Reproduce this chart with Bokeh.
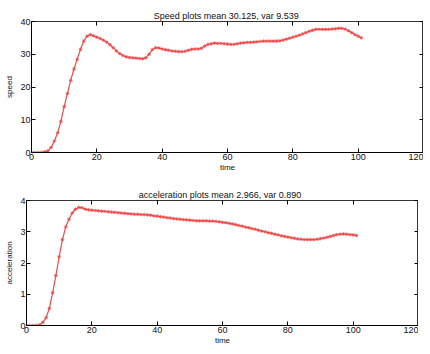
from bokeh.plotting import figure
from bokeh.layouts import column, row
from bokeh.models import LinearAxis, FixedTicker, Range1d, Spacer
from bokeh.embed import file_html
from bokeh.resources import INLINE

time = list(range(0, 102))
speed = [0, 0, 0, 0, 0.2, 0.5, 1.5, 3.5, 6, 9.5,
         14, 18, 22, 25.5, 28.5, 31.5, 34, 35.5, 36, 35.6,
         35.2, 34.8, 34.3, 33.7, 32.9, 32.0, 31.0, 30.2, 29.6, 29.2,
         29.0, 28.9, 28.8, 28.7, 28.6, 28.9, 30.0, 31.4, 32.0, 31.9,
         31.6, 31.4, 31.2, 31.0, 30.9, 30.8, 30.8, 30.9, 31.2, 31.5,
         31.6, 31.6, 31.8, 32.5, 33.0, 33.2, 33.4, 33.3, 33.3, 33.2,
         33.1, 33.0, 33.0, 33.2, 33.4, 33.5, 33.6, 33.6, 33.7, 33.8,
         33.9, 34.0, 34.0, 34.0, 34.0, 34.0, 34.1, 34.3, 34.6, 34.9,
         35.2, 35.5, 35.8, 36.2, 36.6, 37.0, 37.3, 37.6, 37.6, 37.6,
         37.6, 37.6, 37.7, 37.8, 37.9, 37.9, 37.7, 37.2, 36.6, 36.0,
         35.5, 35.0]
accel = [0, 0, 0, 0, 0.02, 0.1, 0.25, 0.55, 1.05, 1.6,
         2.2, 2.75, 3.15, 3.4, 3.6, 3.72, 3.78, 3.77, 3.72, 3.70,
         3.69, 3.68, 3.67, 3.66, 3.65, 3.64, 3.63, 3.62, 3.61, 3.60,
         3.59, 3.58, 3.57, 3.56, 3.56, 3.55, 3.55, 3.54, 3.53, 3.51,
         3.50, 3.48, 3.47, 3.45, 3.44, 3.42, 3.41, 3.40, 3.39, 3.38,
         3.37, 3.36, 3.35, 3.35, 3.35, 3.35, 3.34, 3.34, 3.33, 3.32,
         3.30, 3.29, 3.27, 3.25, 3.23, 3.20, 3.18, 3.15, 3.13, 3.10,
         3.08, 3.05, 3.02, 3.00, 2.97, 2.95, 2.92, 2.90, 2.87, 2.85,
         2.83, 2.81, 2.79, 2.77, 2.76, 2.75, 2.75, 2.75, 2.75, 2.76,
         2.78, 2.80, 2.82, 2.85, 2.88, 2.91, 2.92, 2.93, 2.92, 2.91,
         2.90, 2.88]

x_ticks = [0, 20, 40, 60, 80, 100, 120]
speed_ticks = [0, 10, 20, 30, 40]
accel_ticks = [0, 1, 2, 3, 4]

FONT = "Liberation Sans"
RED = "#f04848"
INK = "#111111"


def make(y, yticks, ymax, title, ylabel, frame_h, top):
    p = figure(frame_width=392, frame_height=frame_h, output_backend="svg",
               toolbar_location=None,
               x_range=Range1d(0, 120), y_range=Range1d(0, ymax),
               min_border_left=0, min_border_right=0, min_border_top=top,
               min_border_bottom=0)
    p.title.text = title
    p.title.align = "center"
    p.title.text_font = FONT
    p.title.text_font_size = "9px"
    p.title.text_font_style = "normal"
    p.title.text_color = INK
    p.title.standoff = 1
    p.title.offset = 0
    p.grid.visible = False
    p.outline_line_color = "black"
    p.outline_line_width = 0.8
    for ax, ticks in ((p.xaxis[0], x_ticks), (p.yaxis[0], yticks)):
        ax.ticker = FixedTicker(ticks=ticks)
        ax.major_tick_in = 4
        ax.major_tick_out = 0
        ax.major_tick_line_color = "black"
        ax.minor_tick_line_color = None
        ax.axis_line_color = "black"
        ax.major_label_text_font = FONT
        ax.major_label_text_font_size = "9px"
        ax.major_label_text_color = INK
        ax.major_label_standoff = 1
        ax.axis_label_text_font = FONT
        ax.axis_label_text_font_size = "8px"
        ax.axis_label_text_font_style = "normal"
        ax.axis_label_text_color = INK
    p.xaxis.axis_label_standoff = 0
    p.yaxis.axis_label_standoff = 3
    p.xaxis.axis_label = "time"
    p.yaxis.axis_label = ylabel
    top_ax = LinearAxis(ticker=FixedTicker(ticks=x_ticks), major_tick_in=4, major_tick_out=0,
                        major_tick_line_color="black",
                        minor_tick_line_color=None, major_label_text_color=None,
                        major_label_text_font_size="1px",
                        axis_line_color=None, major_label_standoff=0)
    right_ax = LinearAxis(ticker=FixedTicker(ticks=yticks), major_tick_in=4, major_tick_out=0,
                          major_tick_line_color="black",
                          minor_tick_line_color=None, major_label_text_color=None,
                          major_label_text_font_size="1px",
                          axis_line_color=None, major_label_standoff=0)
    p.add_layout(top_ax, "above")
    p.add_layout(right_ax, "right")
    p.line(time, y, line_color=RED, line_width=1.2)
    p.scatter(time, y, marker="asterisk", size=3.5, line_color=RED, line_width=0.8)
    return p


p1 = make(speed, speed_ticks, 40, "Speed plots mean 30.125, var  9.539", "speed", 131, 0)
p2 = make(accel, accel_ticks, 4, "acceleration plots mean  2.966, var  0.890", "acceleration", 125, 26)
layout = column(
    Spacer(height=8),
    row(Spacer(width=2), p1, spacing=0),
    row(Spacer(width=2), p2, spacing=0),
    spacing=0,
)

open("out.html", "w").write(file_html(layout, INLINE))
